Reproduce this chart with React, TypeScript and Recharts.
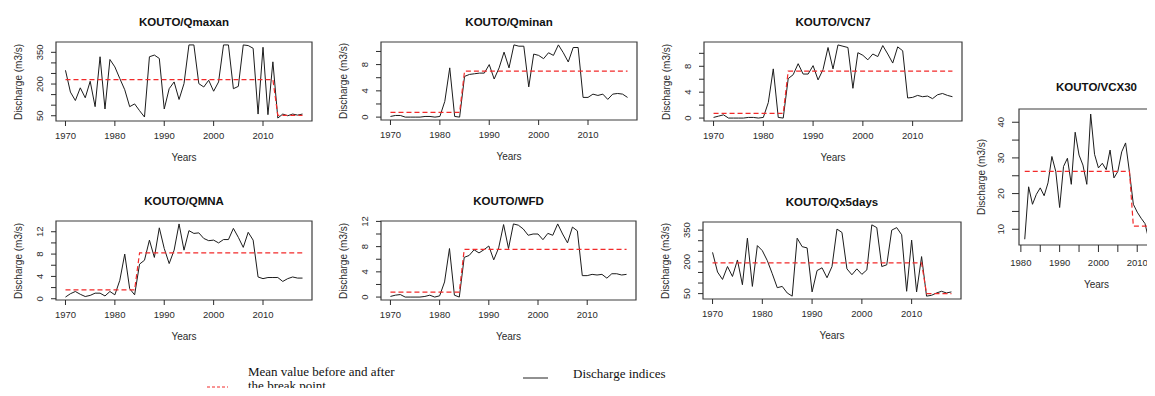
import { LineChart, Line, XAxis, YAxis, ReferenceArea } from "recharts"

// station KOUTO, annual discharge indices
const years1970to2018 = [
  1970, 1971, 1972, 1973, 1974, 1975, 1976, 1977, 1978, 1979,
  1980, 1981, 1982, 1983, 1984, 1985, 1986, 1987, 1988, 1989,
  1990, 1991, 1992, 1993, 1994, 1995, 1996, 1997, 1998, 1999,
  2000, 2001, 2002, 2003, 2004, 2005, 2006, 2007, 2008, 2009,
  2010, 2011, 2012, 2013, 2014, 2015, 2016, 2017, 2018,
]

const years1981to2018 = [
  1981, 1982, 1983, 1984, 1985, 1986, 1987, 1988, 1989,
  1990, 1991, 1992, 1993, 1994, 1995, 1996, 1997, 1998, 1999,
  2000, 2001, 2002, 2003, 2004, 2005, 2006, 2007, 2008, 2009,
  2010, 2011, 2012, 2013, 2014, 2015, 2016, 2017, 2018,
]

const qmaxan = [
  265, 162, 122, 182, 135, 213, 93, 329, 82, 316,
  281, 226, 173, 93, 106, 74, 44, 329, 337, 321,
  82, 178, 210, 127, 202, 385, 385, 202, 186, 218,
  166, 210, 385, 385, 178, 189, 385, 382, 369, 58,
  374, 55, 305, 39, 58, 50, 58, 53, 58,
]

const qminan = [
  0.1, 0.25, 0.25, 0, 0, 0, 0, 0.1, 0.1, 0,
  0.1, 2.4, 7.5, 0.1, 0, 6.2, 6.5, 6.6, 6.7, 6.7,
  8.0, 5.8, 7.5, 9.9, 7.5, 11.0, 10.8, 10.8, 4.6, 9.6,
  9.4, 8.9, 9.8, 9.4, 11.0, 9.8, 8.4, 10.6, 10.6, 3.0,
  3.0, 3.5, 3.3, 3.5, 2.7, 3.5, 3.6, 3.5, 3.0,
]

const vcn7 = [
  0.1, 0.3, 0.5, 0, 0, 0, 0, 0.1, 0.1, 0,
  0.1, 2.4, 7.6, 0.1, 0, 6.1, 6.7, 8.4, 6.8, 6.8,
  8.1, 5.9, 7.5, 10.9, 7.6, 11.3, 11.1, 10.9, 4.6, 10.1,
  9.7, 9.0, 9.9, 9.5, 11.2, 9.9, 8.5, 11.0, 10.4, 3.1,
  3.2, 3.5, 3.3, 3.4, 3.0, 3.6, 3.8, 3.5, 3.3,
]

const vcx30 = [
  7.2, 21.9, 17, 19.8, 21.6, 19.4, 23, 30.4, 26.2,
  16.1, 27.6, 29.9, 22.6, 37.2, 30.8, 28, 22.6, 42.3, 31,
  27.2, 28.5, 26.7, 32.2, 24.4, 26.2, 31.7, 34.2, 26, 17,
  14.8, 13.1, 11.6, 7, 9.4, 9.5, 10, 9, 9.5,
]

const qmna = [
  0.3, 0.9, 1.3, 0.8, 0.4, 0.6, 1.0, 1.0, 0.5, 1.3,
  0.7, 3.3, 8.0, 1.8, 0.7, 6.2, 6.9, 10.5, 7.4, 12.7,
  9.0, 6.3, 8.7, 13.4, 8.7, 12.2, 11.7, 11.8, 10.8, 10.4,
  10.5, 10.0, 10.6, 10.6, 12.6, 11.0, 9.2, 11.9, 10.5, 3.9,
  3.6, 3.8, 3.8, 3.8, 3.1, 3.6, 3.9, 3.7, 3.7,
]

const wfd = [
  0.1, 0.3, 0.4, 0, 0, 0, 0, 0.1, 0.3, 0,
  0.2, 2.4, 7.7, 0.3, 0, 6.3, 6.6, 7.5, 7.0, 7.5,
  8.1, 5.9, 7.8, 11.5, 7.7, 11.6, 11.4, 10.8, 9.8, 10.0,
  10.0, 9.1, 10.1, 9.8, 11.6, 10.0, 8.6, 11.1, 10.5, 3.4,
  3.4, 3.6, 3.5, 3.6, 3.0, 3.7, 3.7, 3.5, 3.6,
]

const qx5days = [
  245, 152, 117, 178, 131, 209, 92, 312, 84, 277,
  253, 206, 144, 78, 84, 53, 38, 312, 272, 266,
  58, 159, 172, 125, 178, 355, 339, 167, 139, 167,
  141, 162, 375, 362, 178, 186, 350, 362, 328, 61,
  303, 58, 225, 38, 42, 53, 61, 53, 58,
]

// break year (last year of the first period) and the two period means
const breakYears = { qmaxan: 2012, qminan: 1984, vcn7: 1984, vcx30: 2008, qmna: 1984, wfd: 1984, qx5days: 2012 }
const meansBefore = { qmaxan: 221, qminan: 0.72, vcn7: 0.74, vcx30: 26.2, qmna: 1.6, wfd: 0.8, qx5days: 195 }
const meansAfter = { qmaxan: 52, qminan: 7.0, vcn7: 7.25, vcx30: 10.9, qmna: 8.2, wfd: 7.55, qx5days: 50 }

const decadeTicks = [1970, 1980, 1990, 2000, 2010]
const fiveYearTicks = [1980, 1985, 1990, 1995, 2000, 2005, 2010, 2015]
const decadeLabels80 = [1980, 1990, 2000, 2010]
const bigTicks = [50, 100, 150, 200, 250, 300, 350]
const bigLabels = [50, 200, 350]
const smallTicks10 = [0, 2, 4, 6, 8, 10]
const smallLabels8 = [0, 4, 8]
const smallTicks12 = [0, 2, 4, 6, 8, 10, 12]
const smallLabels12 = [0, 4, 8, 12]
const vcxTicks = [10, 15, 20, 25, 30, 35, 40]
const vcxLabels = [10, 20, 30, 40]

const SANS = '"Liberation Sans", Arial, Helvetica, sans-serif'
const SERIF = '"Liberation Serif", "Times New Roman", serif'
const INK = "#2b2b2b"
const RED = "#f22a2a"

const ML = 60
const MT = 44
const MR = 14
const MB = 56

type Box = { l: number; t: number; w: number; h: number }

type Layout = {
  box: Box
  titleOff: number
  xLabOff: number
  yearsOff: number
  yLabOff: number
  tickLen: number
}

const rowLayout = { titleOff: 20, xLabOff: 14, yearsOff: 37, yLabOff: 16, tickLen: 5 }

type PanelProps = {
  title: string
  years: number[]
  values: number[]
  breakYear: number
  before: number
  after: number
  xTicks: number[]
  xLabels: number[]
  yTicks: number[]
  yLabels: number[]
  layout: Layout
}

// R-style extent: data range stretched by 4% on both sides
function padded(arr: number[]): [number, number] {
  const lo = Math.min(...arr)
  const hi = Math.max(...arr)
  const p = (hi - lo) * 0.04
  return [lo - p, hi + p]
}

function Panel({ title, years, values, breakYear, before, after, xTicks, xLabels, yTicks, yLabels, layout }: PanelProps) {
  const { box, titleOff, xLabOff, yearsOff, yLabOff, tickLen } = layout
  const rows = years.map((year, i) => ({
    year,
    value: values[i],
    mean: year <= breakYear ? before : after,
  }))
  const xDom = padded(years)
  const yDom = padded(values)
  const W = ML + box.w + MR
  const H = MT + box.h + MB
  const bottom = MT + box.h

  const xTick = (props: any) => {
    const v = props.payload.value
    return (
      <g>
        <line x1={props.x} x2={props.x} y1={bottom} y2={bottom + tickLen} stroke={INK} strokeWidth={1} />
        {xLabels.includes(v) && (
          <text x={props.x} y={bottom + xLabOff} textAnchor="middle" dominantBaseline="central"
            fontFamily={SANS} fontSize={9.5} fill={INK}>{v}</text>
        )}
      </g>
    )
  }

  const yTick = (props: any) => {
    const v = props.payload.value
    const lx = ML - yLabOff
    return (
      <g>
        <line x1={ML - tickLen} x2={ML} y1={props.y} y2={props.y} stroke={INK} strokeWidth={1} />
        {yLabels.includes(v) && (
          <text x={lx} y={props.y} textAnchor="middle" dominantBaseline="central"
            transform={`rotate(-90, ${lx}, ${props.y})`}
            fontFamily={SANS} fontSize={9.5} fill={INK}>{v}</text>
        )}
      </g>
    )
  }

  return (
    <div style={{ position: "absolute", left: box.l - ML, top: box.t - MT, width: W, height: H }}>
      <div style={{
        position: "absolute", left: ML, top: MT - titleOff - 7, width: box.w, lineHeight: "14px",
        textAlign: "center", fontFamily: SANS, fontWeight: "bold", fontSize: 11.5, color: "#111",
      }}>{title}</div>
      <LineChart width={W} height={H} data={rows} margin={{ top: MT, right: MR, bottom: 0, left: 0 }}>
        <XAxis dataKey="year" type="number" domain={xDom} ticks={xTicks} interval={0} height={MB}
          axisLine={false} tickLine={false} allowDataOverflow tick={xTick} />
        <YAxis type="number" domain={yDom} ticks={yTicks} interval={0} width={ML}
          axisLine={false} tickLine={false} allowDataOverflow tick={yTick} />
        <ReferenceArea x1={xDom[0]} x2={xDom[1]} y1={yDom[0]} y2={yDom[1]}
          fill="none" stroke="#3c3c3c" strokeWidth={1.2} />
        <Line dataKey="value" type="linear" stroke="#1c1c1c" strokeWidth={1} dot={false} isAnimationActive={false} />
        <Line dataKey="mean" type="linear" stroke={RED} strokeWidth={1.2} strokeDasharray="5 3"
          dot={false} isAnimationActive={false} />
      </LineChart>
      <div style={{
        position: "absolute", left: ML, top: bottom + yearsOff - 7, width: box.w, lineHeight: "14px",
        textAlign: "center", fontFamily: SANS, fontSize: 10, color: INK,
      }}>Years</div>
      <div style={{
        position: "absolute", left: ML - 37 - 60, top: MT + box.h / 2 - 7, width: 120, lineHeight: "14px",
        textAlign: "center", fontFamily: SANS, fontSize: 10, color: INK, transform: "rotate(-90deg)",
      }}>Discharge (m3/s)</div>
    </div>
  )
}

export default function App() {
  return (
    <div style={{ position: "relative", width: 1155, height: 396, margin: -8, overflow: "hidden", background: "#fff" }}>
      <Panel title="KOUTO/Qmaxan" years={years1970to2018} values={qmaxan}
        breakYear={breakYears.qmaxan} before={meansBefore.qmaxan} after={meansAfter.qmaxan}
        xTicks={decadeTicks} xLabels={decadeTicks} yTicks={bigTicks} yLabels={bigLabels}
        layout={{ box: { l: 56, t: 42, w: 256, h: 79 }, ...rowLayout }} />
      <Panel title="KOUTO/Qminan" years={years1970to2018} values={qminan}
        breakYear={breakYears.qminan} before={meansBefore.qminan} after={meansAfter.qminan}
        xTicks={decadeTicks} xLabels={decadeTicks} yTicks={smallTicks10} yLabels={smallLabels8}
        layout={{ box: { l: 381, t: 42, w: 256, h: 78 }, ...rowLayout }} />
      <Panel title="KOUTO/VCN7" years={years1970to2018} values={vcn7}
        breakYear={breakYears.vcn7} before={meansBefore.vcn7} after={meansAfter.vcn7}
        xTicks={decadeTicks} xLabels={decadeTicks} yTicks={smallTicks10} yLabels={smallLabels8}
        layout={{ box: { l: 704, t: 42, w: 258, h: 79 }, ...rowLayout }} />
      <Panel title="KOUTO/VCX30" years={years1981to2018} values={vcx30}
        breakYear={breakYears.vcx30} before={meansBefore.vcx30} after={meansAfter.vcx30}
        xTicks={fiveYearTicks} xLabels={decadeLabels80} yTicks={vcxTicks} yLabels={vcxLabels}
        layout={{ box: { l: 1019, t: 109, w: 155, h: 136 }, titleOff: 22, xLabOff: 17, yearsOff: 40, yLabOff: 18, tickLen: 7 }} />
      <Panel title="KOUTO/QMNA" years={years1970to2018} values={qmna}
        breakYear={breakYears.qmna} before={meansBefore.qmna} after={meansAfter.qmna}
        xTicks={decadeTicks} xLabels={decadeTicks} yTicks={smallTicks12} yLabels={smallLabels12}
        layout={{ box: { l: 56, t: 221, w: 256, h: 79 }, ...rowLayout }} />
      <Panel title="KOUTO/WFD" years={years1970to2018} values={wfd}
        breakYear={breakYears.wfd} before={meansBefore.wfd} after={meansAfter.wfd}
        xTicks={decadeTicks} xLabels={decadeTicks} yTicks={smallTicks12} yLabels={smallLabels12}
        layout={{ box: { l: 381, t: 221, w: 255, h: 79 }, ...rowLayout }} />
      <Panel title="KOUTO/Qx5days" years={years1970to2018} values={qx5days}
        breakYear={breakYears.qx5days} before={meansBefore.qx5days} after={meansAfter.qx5days}
        xTicks={decadeTicks} xLabels={decadeTicks} yTicks={bigTicks} yLabels={bigLabels}
        layout={{ box: { l: 703, t: 222, w: 258, h: 77 }, ...rowLayout }} />

      {/* legend */}
      <svg style={{ position: "absolute", left: 0, top: 0 }} width={1155} height={396}>
        <line x1={207} x2={228} y1={387} y2={387} stroke={RED} strokeWidth={1} strokeDasharray="3 2" />
        <line x1={523} x2={548} y1={378} y2={378} stroke="#222" strokeWidth={1} />
      </svg>
      <div style={{ position: "absolute", left: 248, top: 365, fontFamily: SERIF, fontSize: 13, lineHeight: "14px", color: "#111" }}>
        Mean value before and after<br />the break point
      </div>
      <div style={{ position: "absolute", left: 573, top: 366, fontFamily: SERIF, fontSize: 13, lineHeight: "15px", color: "#111" }}>
        Discharge indices
      </div>
    </div>
  )
}
